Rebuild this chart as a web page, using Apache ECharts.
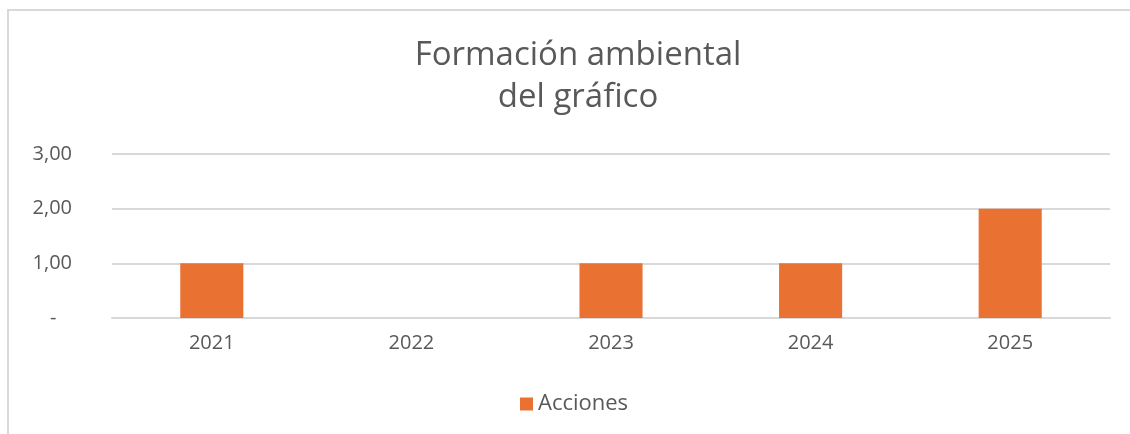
<!DOCTYPE html>
<html>
<head>
<meta charset="utf-8">
<script src="https://cdn.jsdelivr.net/npm/echarts@6/dist/echarts.min.js"></script>
<style>
  html, body { margin: 0; padding: 0; background: #fff; }
  #chart { width: 1130px; height: 434px; }
</style>
</head>
<body>
<div id="chart"></div>
<script>
const years = ['2021', '2022', '2023', '2024', '2025']
const acciones = [1, 0, 1, 1, 2]
const yTicks = [0, 1, 2, 3]

const textColor = '#595959'
const fontFamily = '"Open Sans", sans-serif'

const chart = echarts.init(document.getElementById('chart'), null, { renderer: 'canvas' })

chart.setOption({
  animation: false,
  backgroundColor: '#fff',
  graphic: [
    {
      type: 'rect',
      shape: { x: 8, y: 10, width: 1140, height: 440 },
      style: { fill: 'none', stroke: '#d9d9d9', lineWidth: 2 },
      silent: true
    }
  ],
  title: {
    text: 'Formación ambiental\ndel gráfico',
    left: 573,
    top: 30,
    textAlign: 'center',
    textStyle: {
      color: textColor,
      fontFamily,
      fontSize: 33,
      fontWeight: 'normal',
      lineHeight: 42
    }
  },
  legend: {
    data: ['Acciones'],
    left: 515,
    top: 388,
    icon: 'rect',
    itemWidth: 13,
    itemHeight: 13,
    itemGap: 6,
    itemStyle: { borderWidth: 0 },
    textStyle: { color: textColor, fontFamily, fontSize: 22 }
  },
  grid: { left: 112, right: 20, top: 154, bottom: 116 },
  xAxis: {
    type: 'category',
    data: years,
    axisLine: { lineStyle: { color: '#d9d9d9', width: 2 } },
    axisTick: { show: false },
    axisLabel: { color: textColor, fontFamily, fontSize: 20, margin: 15 }
  },
  yAxis: {
    type: 'value',
    min: yTicks[0],
    max: yTicks[yTicks.length - 1],
    interval: 1,
    axisLine: { show: false },
    axisTick: { show: false },
    splitLine: { lineStyle: { color: '#d9d9d9', width: 2 } },
    axisLabel: {
      color: textColor,
      fontFamily,
      fontSize: 20,
      margin: 40,
      formatter: (v) => v === 0 ? '-   ' : v.toFixed(2).replace('.', ',')
    }
  },
  series: [
    {
      name: 'Acciones',
      type: 'bar',
      data: acciones,
      barWidth: '31.6%',
      itemStyle: { color: '#E97132' }
    }
  ]
})
</script>
</body>
</html>
